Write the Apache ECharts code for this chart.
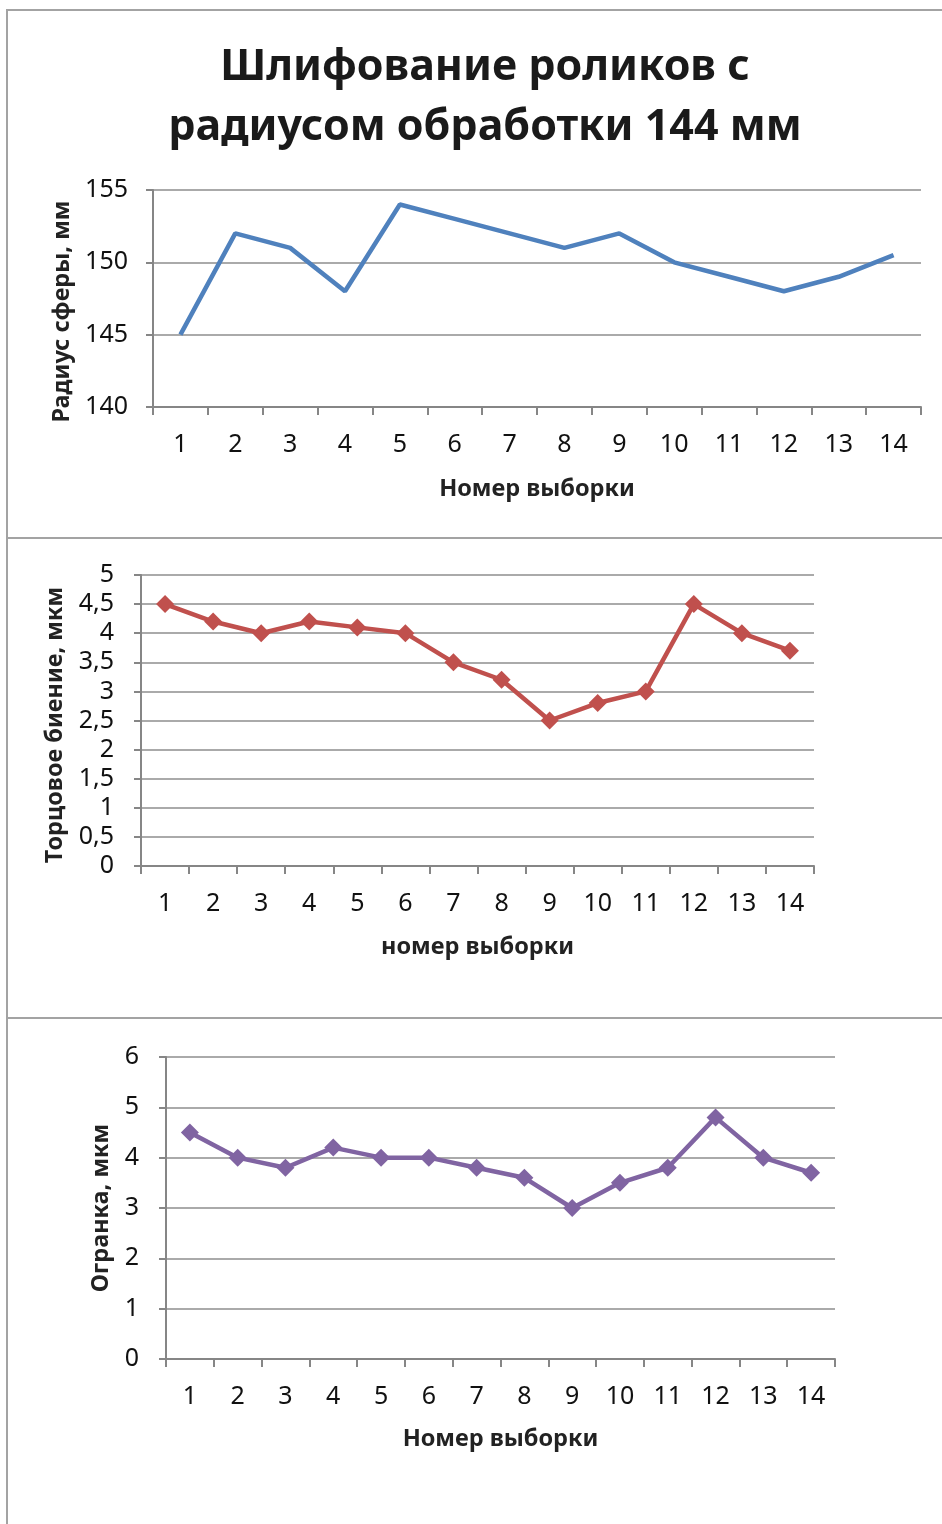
<!DOCTYPE html>
<html>
<head>
<meta charset="utf-8">
<script src="https://cdn.jsdelivr.net/npm/echarts@6/dist/echarts.min.js"></script>
<style>
html,body{margin:0;padding:0;background:#fff;}
#c{width:942px;height:1524px;}
</style>
</head>
<body>
<div id="c"></div>
<script>
const categories = ['1','2','3','4','5','6','7','8','9','10','11','12','13','14'];
const radiusValues = [145, 152, 151, 148, 154, 153, 152, 151, 152, 150, 149, 148, 149, 150.5];
const runoutValues = [4.5, 4.2, 4.0, 4.2, 4.1, 4.0, 3.5, 3.2, 2.5, 2.8, 3.0, 4.5, 4.0, 3.7];
const facetValues = [4.5, 4.0, 3.8, 4.2, 4.0, 4.0, 3.8, 3.6, 3.0, 3.5, 3.8, 4.8, 4.0, 3.7];

const titleText = 'Шлифование роликов с\nрадиусом обработки 144 мм';
const yNames = ['Радиус сферы, мм', 'Торцовое биение, мкм', 'Огранка, мкм'];
const xNames = ['Номер выборки', 'номер выборки', 'Номер выборки'];

const FONT = '"Noto Sans", "Open Sans", sans-serif';
const axisGray = '#868686';
const gridGray = '#8e8e8e';

const chart = echarts.init(document.getElementById('c'), null, {renderer: 'canvas'});

function xAxisCfg(i, name, gap) {
  return {
    type: 'category', gridIndex: i, data: categories, boundaryGap: true,
    name: name, nameLocation: 'middle', nameGap: gap,
    nameTextStyle: {fontFamily: FONT, fontWeight: 'bold', fontSize: 23.5, color: '#222'},
    axisLine: {show: true, lineStyle: {color: axisGray, width: 2}},
    axisTick: {show: true, length: 8, lineStyle: {color: axisGray, width: 2}},
    axisLabel: {fontFamily: FONT, fontSize: 25, color: '#111', margin: 25, interval: 0},
    splitLine: {show: false}
  };
}
function yAxisCfg(i, name, min, max, interval, gap, margin, shift, fmt) {
  return {
    type: 'value', gridIndex: i, min: min, max: max, interval: interval,
    name: name, nameLocation: 'middle', nameGap: gap, nameRotate: 90,
    nameTextStyle: {fontFamily: FONT, fontWeight: 'bold', fontSize: 23.5, color: '#222', padding: [0, shift, 0, 0]},
    axisLine: {show: true, lineStyle: {color: axisGray, width: 2}},
    axisTick: {show: true, length: 7, lineStyle: {color: axisGray, width: 2}},
    axisLabel: {fontFamily: FONT, fontSize: 25, color: '#111', margin: margin, formatter: fmt},
    splitLine: {show: true, lineStyle: {color: gridGray, width: 1.6}}
  };
}
const comma = v => String(v).replace('.', ',');

const borderColor = '#a3a3a3';
const option = {
  backgroundColor: '#fff',
  animation: false,
  title: {
    text: titleText, left: 480, top: 33, textAlign: 'center',
    textStyle: {fontFamily: FONT, fontWeight: 'bold', fontSize: 43, lineHeight: 60, color: '#1a1a1a'}
  },
  graphic: [
    {type: 'line', shape: {x1: 7, y1: 10, x2: 7, y2: 1524}, style: {stroke: borderColor, lineWidth: 2}},
    {type: 'line', shape: {x1: 6, y1: 10, x2: 942, y2: 10}, style: {stroke: borderColor, lineWidth: 2}},
    {type: 'line', shape: {x1: 6, y1: 538, x2: 942, y2: 538}, style: {stroke: borderColor, lineWidth: 2}},
    {type: 'line', shape: {x1: 6, y1: 1018, x2: 942, y2: 1018}, style: {stroke: borderColor, lineWidth: 2}}
  ],
  grid: [
    {left: 153, top: 190, width: 768, height: 217},
    {left: 141, top: 575, width: 673, height: 291},
    {left: 166, top: 1057, width: 669, height: 302}
  ],
  xAxis: [xAxisCfg(0, xNames[0], 70), xAxisCfg(1, xNames[1], 69), xAxisCfg(2, xNames[2], 68)],
  yAxis: [
    yAxisCfg(0, yNames[0], 140, 155, 5, 79, 25, 26, v => v),
    yAxisCfg(1, yNames[1], 0, 5, 0.5, 72, 27, 9, comma),
    yAxisCfg(2, yNames[2], 0, 6, 1, 52, 27, 0, v => v)
  ],
  series: [
    {type: 'line', xAxisIndex: 0, yAxisIndex: 0, data: radiusValues, symbol: 'none',
     lineStyle: {color: '#4F81BD', width: 4.5}},
    {type: 'line', xAxisIndex: 1, yAxisIndex: 1, data: runoutValues, symbol: 'diamond', symbolSize: 18,
     itemStyle: {color: '#C0504D'}, lineStyle: {color: '#C0504D', width: 4.5}},
    {type: 'line', xAxisIndex: 2, yAxisIndex: 2, data: facetValues, symbol: 'diamond', symbolSize: 18,
     itemStyle: {color: '#8064A2'}, lineStyle: {color: '#8064A2', width: 4.5}}
  ]
};
chart.setOption(option);
</script>
</body>
</html>
